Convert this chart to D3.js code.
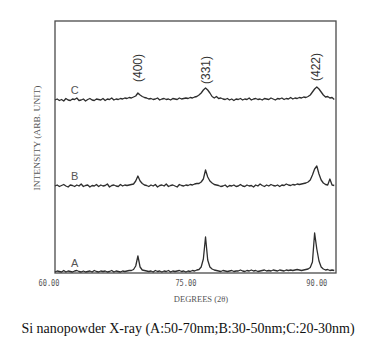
<!DOCTYPE html>
<html><head><meta charset="utf-8">
<script src="https://cdn.jsdelivr.net/npm/d3@7"></script>
<style>html,body{margin:0;padding:0;background:#fff;}</style>
</head><body>
<svg id="c" width="376" height="360"></svg>
<script>
// 2-theta sampling grid start / step (degrees)
const thetaStart = 60, thetaStep = 0.25;
// Intensity above each trace's own baseline (arb. units)
const seriesA = [1,2,1.5,1,2.5,1,2,1.5,1,2, 2.5,1.5,1,2,1,1.5,2,1,2.5,1.5, 1,2,1.5,2,1,1.5,2.5,1,2,1.5, 1,2,1.5,2,2.5,
  2.5,3.5,7,17,6,3,2.5,
  2,1.5,2,1,2.5,1.5,2,1,2,1.5, 2.5,1,2,1.5,2,2.5,1.5,2,1,2, 1.5,2.5,2,3,
  3.5,6,14,36,13,6,4,3,2.5,
  2,1.5,2.5,2,1.5,2,2.5,1.5,2,2, 3,2,1.5,2.5,2,3,2,2.5,1.5,2, 2.5,3,2,2.5,2,3,2.5,2,3,2.5, 2,3,2.5,3,2.5,3,3.5,3,2.5,3, 3.5,
  4,5.5,11,40,24,12,6,4,3,3.5,2.5,3,2.5];
const seriesB = [0,1,-0.5,0.5,1.5,0,-1,1,0.5,-0.5, 1,0,2,-0.5,0.5,1,-1,0.5,0,1.5, -0.5,1,0,0.5,2,-1,0.5,1,0,-0.5, 1.5,0,1,0.5,1,1.5,
  2,5,10,5,2.5,1,
  0.5,-0.5,1,0,1.5,-1,0.5,1,0,2, -0.5,0.5,1,0,-1,1.5,0.5,0,1,0.5, 1.5,1,2,2.5,
  2.5,4,7,16,9,5,3,1.5,1,
  0.5,-0.5,0,1,-1,0.5,0,1,-0.5,0, 1.5,0,-0.5,1,0,0.5,-1,1,0,2, 0.5,-0.5,1,0,1.5,0.5,0,1,-0.5,1, 0.5,2,1,0.5,1.5,1,2,1.5,2,2.5, 3,
  4,6,11,17,20,12,6,3,1.5,1,7,1,0.5];
const seriesC = [0,1,-0.5,0.5,-1,1.5,0,-0.5,1,0.5, 2,-0.5,0,1,-1,0.5,1.5,0,-0.5,1, 0.5,0,1.5,-0.5,1,0.5,2,0,1,0.5, 1.5,
  1,2,1.5,2.5,2,3,4,
  7,5,3.5,2.5,2,
  1,1.5,0.5,1,2,0,1,1.5,0.5,1, 0,1.5,1,0.5,2,1,1.5,2,1.5,2.5,
  2,3,3.5,5,7,10,12,10,7,3.5,2,3.5,1.5,2,
  1,0.5,1.5,0,1,-0.5,1,0.5,1.5,0, 1,0.5,2,0,1,1.5,0.5,1,0,1.5, 1,0.5,2,1,0,1.5,1,2,0.5,1.5, 1,2.5,1,2,1.5,2.5,
  2,3,2.5,3.5,5,8,11,13,11,8,5,3,3.5,2,2.5,0.5];
const seriesNames = ["A","B","C"];
const seriesOffsets = [0, 87, 173];
const peakLabels = ["(400)","(331)","(422)"];
const peakAngles = [69.6, 77.4, 90.0];
const peakLabelLevel = [205, 203, 206];
const xTickValues = [60, 75, 90];
const xTickLabels = ["60.00","75.00","90.00"];
const xTitle = "DEGREES (2\u03b8)";
const yTitle = "INTENSITY (ARB. UNIT)";
const caption = "Si nanopowder X-ray (A:50-70nm;B:30-50nm;C:20-30nm)";

const svg = d3.select("#c");
const L = 55, R = 336, T = 21, B = 273;
const x = d3.scaleLinear().domain([60, 92.2]).range([L, R]);
const y = d3.scaleLinear().domain([0, 252]).range([B, T]);

// frame
svg.append("rect").attr("x", L).attr("y", T).attr("width", R - L).attr("height", B - T)
  .attr("fill", "none").attr("stroke", "#4a4a4a").attr("stroke-width", 1.3);

const all = [seriesA, seriesB, seriesC];
const line = d3.line().x(d => x(d[0])).y(d => y(d[1]));
all.forEach((s, k) => {
  const pts = s.map((v, i) => [thetaStart + thetaStep * i, v + seriesOffsets[k]]);
  svg.append("path").attr("d", line(pts)).attr("fill", "none")
    .attr("stroke", "#2e2e2e").attr("stroke-width", 1.3).attr("stroke-linejoin", "round");
  svg.append("text").attr("x", x(62.25)).attr("y", y(seriesOffsets[k] + 9))
    .attr("text-anchor", "middle").attr("dominant-baseline", "middle")
    .attr("font-family", "Liberation Sans, Arial, sans-serif").attr("font-size", 11)
    .attr("fill", "#555").text(seriesNames[k]);
});

// peak labels (rotated)
peakLabels.forEach((t, i) => {
  const px = x(peakAngles[i]), py = y(peakLabelLevel[i]);
  svg.append("text").attr("transform", `translate(${px},${py}) rotate(-90)`)
    .attr("text-anchor", "middle").attr("dominant-baseline", "middle")
    .attr("font-family", "Liberation Sans, Arial, sans-serif").attr("font-size", 12)
    .attr("fill", "#333").text(t);
});

// x tick labels
xTickValues.forEach((v, i) => {
  svg.append("text").attr("x", x(v) + (i === 0 ? -6 : 0)).attr("y", 283)
    .attr("text-anchor", "middle").attr("dominant-baseline", "middle")
    .attr("font-family", "DejaVu Sans Mono, monospace").attr("font-size", 9)
    .attr("textLength", 21).attr("lengthAdjust", "spacingAndGlyphs")
    .attr("fill", "#555").text(xTickLabels[i]);
});

svg.append("text").attr("x", 201).attr("y", 300).attr("text-anchor", "middle")
  .attr("dominant-baseline", "middle").attr("font-family", "Liberation Serif, serif")
  .attr("font-size", 8.5).attr("fill", "#555").text(xTitle);

svg.append("text").attr("transform", "translate(38,138) rotate(-90)")
  .attr("text-anchor", "middle").attr("dominant-baseline", "middle")
  .attr("font-family", "Liberation Serif, serif").attr("font-size", 8.5)
  .attr("textLength", 105).attr("lengthAdjust", "spacingAndGlyphs")
  .attr("fill", "#555").text(yTitle);

svg.append("text").attr("x", 188).attr("y", 333).attr("text-anchor", "middle")
  .attr("font-family", "Liberation Serif, 'Times New Roman', serif").attr("font-size", 14)
  .attr("fill", "#111").text(caption);
</script>
</body></html>
